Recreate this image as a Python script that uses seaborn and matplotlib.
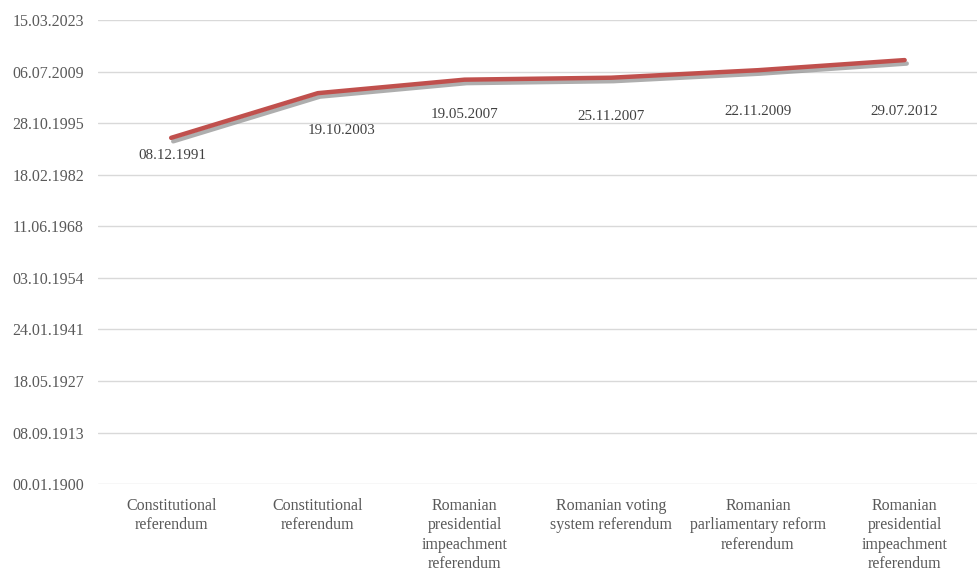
import datetime as dt
import pandas as pd
import matplotlib.pyplot as plt
import matplotlib.patheffects as pe
import seaborn as sns

# referendums, in order
categories = [
    "Constitutional\nreferendum",
    "Constitutional\nreferendum",
    "Romanian\npresidential\nimpeachment\nreferendum",
    "Romanian voting\nsystem referendum",
    "Romanian\nparliamentary reform\nreferendum",
    "Romanian\npresidential\nimpeachment\nreferendum",
]
dates = ["08.12.1991", "19.10.2003", "19.05.2007", "25.11.2007", "22.11.2009", "29.07.2012"]
y_ticks = [0, 5000, 10000, 15000, 20000, 25000, 30000, 35000, 40000, 45000]

# data label nudges (points), as placed in the original
label_dx = [1, 17, 0, 0, 0, 0]
label_dy = [-13, -27, -25, -28, -30, -37]

EXCEL_EPOCH = dt.date(1899, 12, 30)


def to_serial(s):
    d = dt.datetime.strptime(s, "%d.%m.%Y").date()
    return (d - EXCEL_EPOCH).days


def serial_label(v):
    v = int(round(v))
    if v == 0:
        return "00.01.1900"
    return (EXCEL_EPOCH + dt.timedelta(days=v)).strftime("%d.%m.%Y")


df = pd.DataFrame({"pos": range(len(categories)), "serial": [to_serial(s) for s in dates]})

sns.set_style("white")
plt.rcParams["font.family"] = ["Liberation Serif", "DejaVu Serif"]

fig = plt.figure(figsize=(9.78, 5.73), dpi=100)
ax = fig.add_axes([0.1, 0.155, 0.9, 0.81])

sns.lineplot(data=df, x="pos", y="serial", ax=ax, color="#C0504D", linewidth=3.2,
             solid_capstyle="round", solid_joinstyle="round",
             path_effects=[pe.SimpleLineShadow(offset=(1.5, -2.5), shadow_color="#8C8C8C", alpha=0.7),
                           pe.Normal()])

for i, row in df.iterrows():
    ax.annotate(dates[i], (row["pos"], row["serial"]), xytext=(label_dx[i], label_dy[i]),
                textcoords="offset points", ha="center", va="center",
                fontsize=10.8, color="#404040")

ax.set_xlim(-0.5, len(categories) - 0.5)
ax.set_ylim(0, 45000)
ax.set_yticks(y_ticks)
ax.set_yticklabels([serial_label(v) for v in y_ticks], fontsize=11.5, color="#595959")
ax.set_xticks(range(len(categories)))
ax.set_xticklabels(categories, fontsize=11.5, color="#595959", linespacing=1.28, va="top")
ax.tick_params(axis="y", length=0, pad=10)
ax.tick_params(axis="x", length=0, pad=10)
ax.grid(axis="y", color="#D9D9D9", linewidth=1)
ax.set_axisbelow(True)
ax.set_xlabel("")
ax.set_ylabel("")
sns.despine(ax=ax, left=True, bottom=True)

plt.savefig("out.png", dpi=100)
